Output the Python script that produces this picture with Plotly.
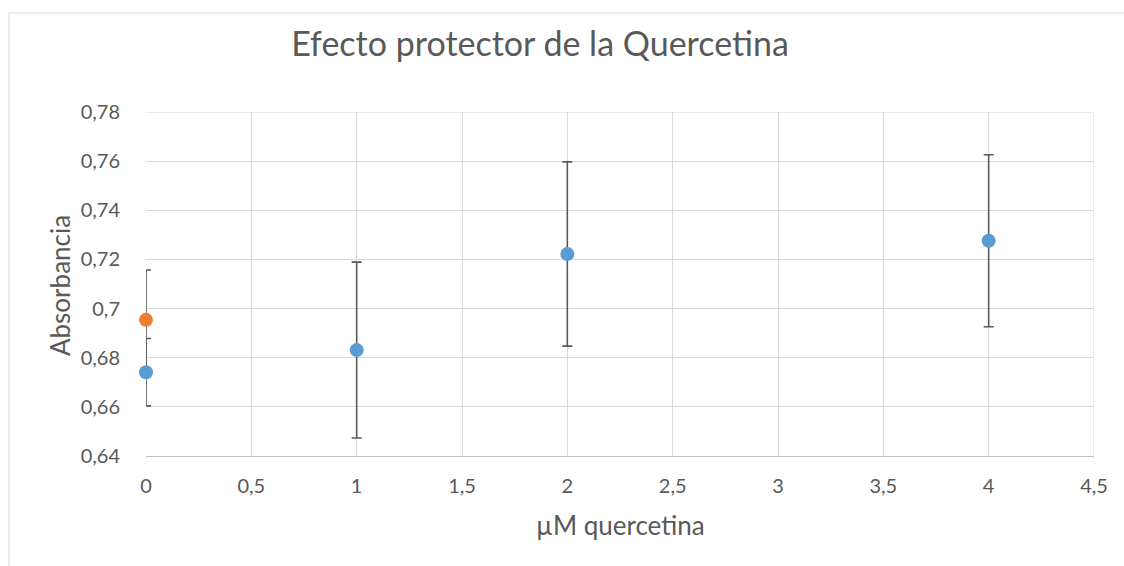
import plotly.graph_objects as go

# Data
x_blue = [0, 1, 2, 4]
y_blue = [0.6741, 0.6831, 0.7222, 0.7276]
err_blue = [0.0137, 0.0358, 0.0375, 0.0350]

x_orange = [0]
y_orange = [0.6954]
err_orange = [0.0203]

x_ticks = [0, 0.5, 1, 1.5, 2, 2.5, 3, 3.5, 4, 4.5]
x_ticktext = ["0", "0,5", "1", "1,5", "2", "2,5", "3", "3,5", "4", "4,5"]
y_ticks = [0.64, 0.66, 0.68, 0.70, 0.72, 0.74, 0.76, 0.78]
y_ticktext = ["0,64", "0,66", "0,68", "0,7", "0,72", "0,74", "0,76", "0,78"]

title_text = "Efecto protector de la Quercetina"
x_title = "µM quercetina"
y_title = "Absorbancia"

FONT = "Lato, Carlito, Calibri, sans-serif"
TXT = "#595959"

fig = go.Figure()
fig.add_trace(go.Scatter(
    x=x_orange, y=y_orange, mode="markers", cliponaxis=False,
    marker=dict(color="#ED7D31", size=14),
    error_y=dict(type="data", array=err_orange, visible=True,
                 color="#595959", thickness=1.6, width=5),
    showlegend=False,
))
fig.add_trace(go.Scatter(
    x=x_blue, y=y_blue, mode="markers", cliponaxis=False,
    marker=dict(color="#5B9BD5", size=14),
    error_y=dict(type="data", array=err_blue, visible=True,
                 color="#595959", thickness=1.6, width=5),
    showlegend=False,
))

fig.update_layout(
    width=1124, height=566,
    margin=dict(l=146, r=30, t=112, b=110),
    paper_bgcolor="white", plot_bgcolor="white",
    font=dict(family=FONT, color=TXT),
    title=dict(text=title_text, x=(540 - 146) / 948, xref="paper", xanchor="center",
               y=1 - 44 / 566, yref="container", yanchor="middle",
               font=dict(size=34, color=TXT, family=FONT)),
    xaxis=dict(range=[0, 4.5], tickvals=x_ticks, ticktext=x_ticktext,
               showgrid=True, gridcolor="#D9D9D9", gridwidth=1,
               zeroline=False, showline=True, linecolor="#BFBFBF", linewidth=1,
               ticks="", ticklabelstandoff=12,
               tickfont=dict(size=20, color=TXT, family=FONT)),
    yaxis=dict(range=[0.64, 0.78], tickvals=y_ticks, ticktext=y_ticktext,
               showgrid=True, gridcolor="#D9D9D9", gridwidth=1,
               zeroline=False, showline=False, ticks="", ticklabelstandoff=25,
               tickfont=dict(size=20, color=TXT, family=FONT)),
    annotations=[
        dict(text=y_title, xref="paper", yref="paper",
             x=(60 - 146) / 948, y=(456 - 286) / 344, xanchor="center", yanchor="middle",
             textangle=-90, showarrow=False,
             font=dict(size=26, color=TXT, family=FONT)),
        dict(text=x_title, xref="paper", yref="paper",
             x=0.5, y=(456 - 525) / 344, xanchor="center", yanchor="middle",
             showarrow=False, font=dict(size=26, color=TXT, family=FONT)),
    ],
    shapes=[
        dict(type="rect", xref="paper", yref="paper",
             x0=(9 - 146) / 948, x1=(1135 - 146) / 948,
             y0=(456 - 580) / 344, y1=(456 - 13) / 344,
             line=dict(color="#D9D9D9", width=1), fillcolor="rgba(0,0,0,0)",
             layer="below"),
        dict(type="line", xref="x", yref="paper", x0=4.5, x1=4.5, y0=0, y1=1,
             line=dict(color="#D9D9D9", width=1), layer="below"),
        dict(type="line", xref="paper", yref="y", x0=0, x1=1, y0=0.78, y1=0.78,
             line=dict(color="#D9D9D9", width=1), layer="below"),
    ],
)

fig.write_html("out.html", config={"displayModeBar": False},
               post_script="document.body.style.margin='0';")
